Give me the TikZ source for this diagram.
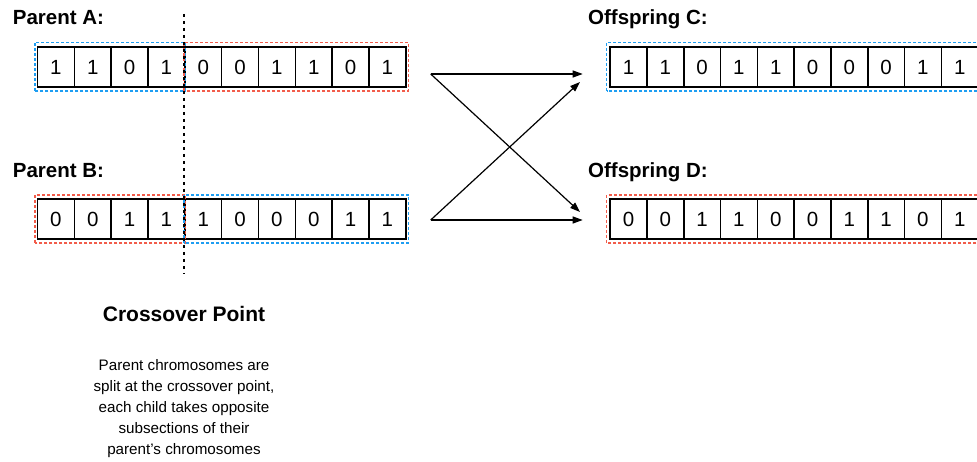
\documentclass[tikz,border=0pt]{standalone}
\usepackage{fontspec}
\setmainfont{Liberation Sans}
\usetikzlibrary{arrows.meta,calc}
\definecolor{dblue}{RGB}{30,158,242}
\definecolor{dred}{RGB}{242,92,74}
\begin{document}
\begin{tikzpicture}[x=1pt,y=1pt,
  cell/.style={draw=black, line width=1.6pt, minimum width=36.83pt, minimum height=40pt, inner sep=0pt, anchor=south west, font=\fontsize{20.5}{24}\selectfont},
  lbl/.style={anchor=base west, inner sep=0pt, font=\fontsize{20.5}{24}\selectfont\bfseries},
  bluebox/.style={draw=dblue, line width=1.3pt, dash pattern=on 3pt off 2pt},
  redbox/.style={draw=dred, line width=1.3pt, dash pattern=on 3pt off 2pt},
  crossline/.style={draw=black, line width=1.2pt, dash pattern=on 3pt off 4pt},
  arr/.style={line width=1.2pt, -{Triangle[length=10pt,width=7pt]}},
]
\useasboundingbox (0,0) rectangle (977,461);
% labels
\node[lbl] (labA) at (12.7,436) {Parent A:};
\node[lbl] (labB) at (12.7,283) {Parent B:};
\node[lbl] (labC) at (588,436.5) {Offspring C:};
\node[lbl] (labD) at (588,283) {Offspring D:};
% cells
\foreach \d [count=\i] in {1,1,0,1,0,0,1,1,0,1}
  \node[cell] (a\i) at ({36.7+(\i-1)*36.83},373) {\d};
\foreach \d [count=\i] in {0,0,1,1,1,0,0,0,1,1}
  \node[cell] (b\i) at ({36.7+(\i-1)*36.83},221) {\d};
\foreach \d [count=\i] in {1,1,0,1,1,0,0,0,1,1}
  \node[cell] (c\i) at ({609.3+(\i-1)*36.8},373) {\d};
\foreach \d [count=\i] in {0,0,1,1,0,0,1,1,0,1}
  \node[cell] (d\i) at ({609.3+(\i-1)*36.8},221) {\d};
% dashed groups
\draw[bluebox] ($(a1.south west)+(-1.7,-3)$) rectangle ($(a4.north east)+(0,4)$);
\draw[redbox] ($(a5.south west)+(0,-3)$) rectangle ($(a10.north east)+(2,4)$);
\draw[redbox] ($(b1.south west)+(-1.7,-3)$) rectangle ($(b4.north east)+(0,3.5)$);
\draw[bluebox] ($(b5.south west)+(0,-3)$) rectangle ($(b10.north east)+(2,3.5)$);
\draw[bluebox] ($(c1.south west)+(-2.6,-3)$) rectangle ($(c10.north east)+(2,4)$);
\draw[redbox] ($(d1.south west)+(-2.6,-3)$) rectangle ($(d10.north east)+(2,3.5)$);
% crossover line
\coordinate (xtop) at (184,447);
\coordinate (xbot) at (184,187);
\draw[crossline] (xtop) -- (xbot);
% arrows
\coordinate (sA) at (430.7,387);
\coordinate (sB) at (430.7,241);
\coordinate (eC1) at (582.7,387);
\coordinate (eC2) at (580,379);
\coordinate (eD1) at (580,249);
\coordinate (eD2) at (582.7,241);
\draw[arr] (sA) -- (eC1);
\draw[arr] (sA) -- (eD1);
\draw[arr] (sB) -- (eC2);
\draw[arr] (sB) -- (eD2);
% caption
\node[anchor=base, inner sep=0pt, font=\fontsize{21}{24}\selectfont\bfseries] (title) at (184,140) {Crossover Point};
\node[anchor=north, inner sep=0pt, align=center, font=\fontsize{15.2}{21}\selectfont] (body) at (184,101.8) {Parent chromosomes are\\split at the crossover point,\\each child takes opposite\\subsections of their\\parent’s chromosomes};
\end{tikzpicture}
\end{document}
